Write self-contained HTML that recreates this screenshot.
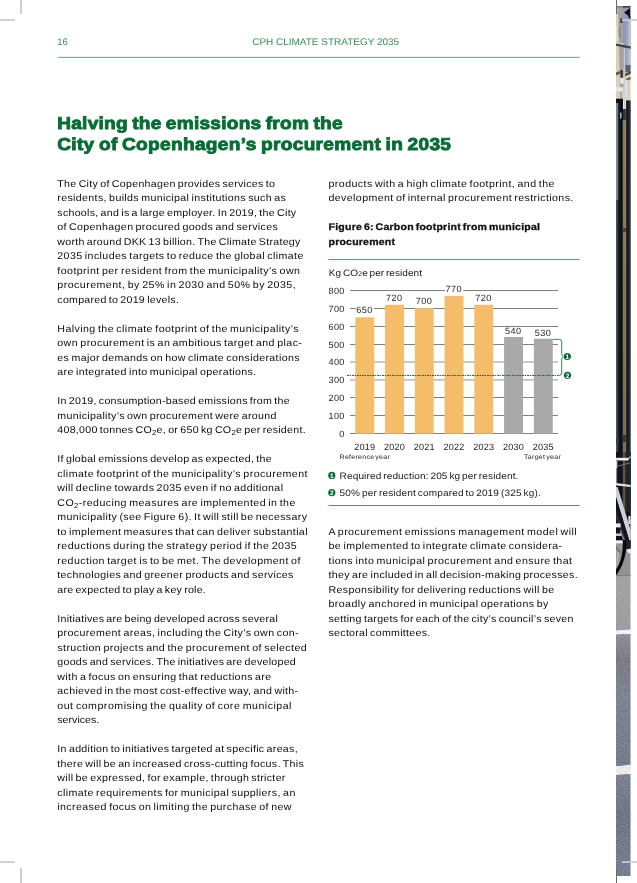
<!DOCTYPE html>
<html lang="en">
<head>
<meta charset="utf-8">
<title>CPH Climate Strategy 2035 – page 16</title>
<style>
html,body{margin:0;padding:0;background:#fff;}
body{width:637px;height:883px;position:relative;overflow:hidden;font-family:"Liberation Sans",Arial,Helvetica,sans-serif;color:#111;}
.pg{position:absolute;left:0;top:0;width:637px;height:883px;overflow:hidden;}
.pg svg{position:absolute;left:0;top:0;}
.t{position:absolute;left:0;top:0;white-space:nowrap;line-height:20px;height:20px;margin:0;padding:0;transform-origin:0 0;text-rendering:geometricPrecision;font-weight:normal;}
.hd{font-size:9.6px;color:#2f905c;}
.ti{font-size:17.2px;color:#0a6c36;font-weight:bold;word-spacing:-1.1px;-webkit-text-stroke:0.9px #0a6c36;}
.bd{font-size:9.85px;color:#0d0d0d;word-spacing:-1.0px;}
.cap{font-size:9.6px;color:#111;font-weight:bold;word-spacing:-1.2px;-webkit-text-stroke:0.3px #111;}
.sm{font-size:9.3px;color:#1a1a1a;word-spacing:-1.0px;}
.ax{font-size:9.1px;color:#262626;}
.xs{font-size:6.5px;color:#1a1a1a;word-spacing:-1.2px;}
.cn{font-size:6.4px;color:#fff;font-weight:bold;}
sub{font-size:7.2px;vertical-align:baseline;position:relative;top:1.8px;line-height:0;}
.s2{font-size:6.7px;}
</style>
</head>
<body>
<div class="pg">
<svg width="637" height="883" viewBox="0 0 637 883" xmlns="http://www.w3.org/2000/svg" aria-hidden="true">
<defs>
<linearGradient id="brn" x1="0" x2="0" y1="0" y2="1"><stop offset="0" stop-color="#8f7b59"/><stop offset="0.5" stop-color="#84714f"/><stop offset="1" stop-color="#74644a"/></linearGradient>
<linearGradient id="pv1" x1="0" x2="0" y1="0" y2="1">
<stop offset="0" stop-color="#9c9da0"/><stop offset="0.25" stop-color="#a39c9d"/><stop offset="1" stop-color="#95989f"/>
</linearGradient>
<linearGradient id="pv2" x1="0" x2="0" y1="0" y2="1">
<stop offset="0" stop-color="#858a94"/><stop offset="0.2" stop-color="#6f737c"/><stop offset="0.5" stop-color="#767c8a"/><stop offset="1" stop-color="#6c7282"/>
</linearGradient>
<linearGradient id="pv3" x1="0" x2="0" y1="0" y2="1">
<stop offset="0" stop-color="#747a8c"/><stop offset="0.4" stop-color="#666b7a"/><stop offset="1" stop-color="#6e758a"/>
</linearGradient>
<clipPath id="strip"><rect x="616" y="5.9" width="14.7" height="870"/></clipPath>
<filter id="nz" x="0" y="0" width="100%" height="100%"><feTurbulence type="fractalNoise" baseFrequency="0.9" numOctaves="2" seed="7" result="n"/><feColorMatrix in="n" type="matrix" values="0 0 0 0 0.5  0 0 0 0 0.5  0 0 0 0 0.55  1.6 0 0 0 -0.55"/></filter>
</defs>
<g clip-path="url(#strip)">
<rect x="616.00" y="6.00" width="14.70" height="94.00" fill="#dccfb8"/>
<path d="M618 6 L622.9 6 L623.8 100 L620.3 100 Z" fill="#a5a39d"/>
<path d="M616 6 L618 6 L618.3 14 L616 14 Z" fill="#b0b0b0"/>
<rect x="622.80" y="6.00" width="7.90" height="63.00" fill="#8f9bb6"/>
<rect x="628.40" y="20.00" width="2.30" height="46.00" fill="#bcc6d2"/>
<rect x="626.60" y="24.00" width="1.60" height="42.00" fill="#a3afc6"/>
<rect x="622.80" y="6.00" width="7.90" height="1.60" fill="#3a3c40"/>
<rect x="616.00" y="6.00" width="6.80" height="1.40" fill="#7a7c80"/>
<path d="M624.2 12.6 L630.2 7.8 L630.2 17.6 Z" fill="#0e0f12"/>
<path d="M628 16 L630.6 16 L630.6 19 L629 18.6 Z" fill="#23262c"/>
<rect x="620.20" y="18.40" width="2.40" height="4.60" fill="#3c4454"/>
<rect x="618.80" y="26.00" width="2.00" height="12.00" fill="#8f8f92"/>
<rect x="616.00" y="26.00" width="1.60" height="14.00" fill="#e6dccb"/>
<path d="M616 43.4 L631 46.6 L631 48.8 L616 45.8 Z" fill="#3a3f38"/>
<path d="M616 42 L624 43.6 L624 44.8 L616 43.4 Z" fill="#c9ccd0"/>
<rect x="623.60" y="48.00" width="1.60" height="62.00" fill="#c6c9ce"/>
<rect x="625.40" y="65.00" width="5.30" height="7.40" fill="#5d6270"/>
<path d="M616 72.6 L620.4 70.8 L620.4 73.6 L616 75.4 Z" fill="#5a5a48"/>
<rect x="620.60" y="70.00" width="2.20" height="7.60" fill="#2d3036"/>
<path d="M625 73.8 L631 71.2 L631 73.8 L625 76.2 Z" fill="#4c4c3c"/>
<path d="M626.4 78.8 L631 76.8 L631 79 L626.4 80.8 Z" fill="#5c5a44"/>
<rect x="620.40" y="78.00" width="3.20" height="5.60" fill="#ecedef"/>
<rect x="624.80" y="80.00" width="2.60" height="17.00" fill="#dcdfe4"/>
<rect x="616.00" y="87.20" width="7.20" height="4.20" fill="#e6e8ea"/>
<rect x="621.80" y="91.40" width="3.60" height="8.60" fill="#cfd2d6"/>
<rect x="616.00" y="98.70" width="7.00" height="421.30" fill="#0b1118"/>
<rect x="625.90" y="100.40" width="4.80" height="419.60" fill="#24262e"/>
<rect x="623.00" y="109.00" width="2.90" height="12.00" fill="#3a332c"/>
<rect x="622.70" y="120.00" width="3.20" height="400.00" fill="url(#brn)"/>
<rect x="616.00" y="103.00" width="2.40" height="97.00" fill="#7d858c"/>
<rect x="616.00" y="200.00" width="1.80" height="252.00" fill="#4a5058"/>
<rect x="618.40" y="103.00" width="1.00" height="349.00" fill="#1d252e"/>
<rect x="629.80" y="100.40" width="0.90" height="419.60" fill="#3d4049"/>
<rect x="627.40" y="100.40" width="1.00" height="419.60" fill="#15171d"/>
<path d="M620 113 Q620.8 111.6 621.5 113 L621.5 118 Q620.8 119.6 620 118 Z" fill="#a9b6cc"/>
<rect x="622.70" y="228.00" width="3.20" height="4.00" fill="#4a4030"/>
<rect x="622.70" y="435.00" width="3.20" height="7.00" fill="#3a342c"/>
<rect x="616.00" y="438.00" width="2.60" height="6.00" fill="#3a3f46"/>
<rect x="616.00" y="452.00" width="14.70" height="88.00" fill="#0f1218"/>
<rect x="622.70" y="452.00" width="2.90" height="60.00" fill="#5e4f3a"/>
<rect x="625.90" y="452.00" width="4.80" height="60.00" fill="#20232a"/>
<rect x="616.00" y="457.80" width="12.60" height="2.70" fill="#eceef0"/>
<path d="M628.6 457.8 L631 455.6 L631 457.2 L629.8 459 Z" fill="#b9bfd0"/>
<path d="M618 465.6 L629.6 462.6 L629.8 463.5 L618.2 466.5 Z" fill="#6f7690"/>
<rect x="616.00" y="461.00" width="1.40" height="7.00" fill="#cfd3d8"/>
<rect x="616.00" y="468.00" width="1.20" height="15.00" fill="#7f868e"/>
<path d="M616 483 L631 485 L631 487 L616 485.4 Z" fill="#dfe3e8"/>
<path d="M616 487 L617.6 487 L631 531 L631 541 L629.4 541 L616 497 Z" fill="#ccd1d9"/>
<path d="M616 497 L629.4 541 L631 541 L631 548 L627.8 546 L616 510 Z" fill="#12151b"/>
<path d="M616 510 L627.8 546 L627 548 L616 519 Z" fill="#2b303b"/>
<path d="M620.6 530 L626.8 545 L625.6 545.6 L619.6 531 Z" fill="#8a92ac"/>
<rect x="628.40" y="516.00" width="2.30" height="8.00" fill="#dfe2e6"/>
<rect x="616.00" y="523.40" width="4.60" height="4.00" fill="#e8eaed"/>
<rect x="616.00" y="533.40" width="5.40" height="2.60" fill="#c4c8cf"/>
<rect x="616.00" y="540.00" width="14.70" height="36.00" fill="#8f9496"/>
<path d="M616 543.4 L623.4 543.4 L622.6 556 L619 567 L616 571 Z" fill="#949b98"/>
<path d="M616 546 L621 552 L620.4 553.4 L616 548.4 Z" fill="#6f746c"/>
<path d="M617.6 552 L618.8 552 L617.4 566 L616.4 566 Z" fill="#b9c0c4"/>
<rect x="616.00" y="540.80" width="7.20" height="2.60" fill="#eef0f2"/>
<path d="M623 540 L631 540 L631 549 L626.4 549.6 L625 545 Z" fill="#1d222b"/>
<path d="M626.6 549.4 L631 548.6 L631 553.4 L628 553 Z" fill="#eceef1"/>
<path d="M622.8 540 L626.4 540 C627 553 623.4 566 616 575.6 L616 569.4 C620.6 563.4 623.2 553 622.8 540 Z" fill="#07080b"/>
<rect x="616.00" y="575.00" width="14.70" height="1.60" fill="#7c8084"/>
<rect x="616" y="576" width="14.7" height="55" fill="url(#pv1)"/>
<rect x="616" y="634" width="14.7" height="132" fill="url(#pv2)"/>
<rect x="616" y="774" width="14.7" height="102" fill="url(#pv3)"/>
<path d="M616 630.6 L631 629.6 L631 633.2 L616 634.6 Z" fill="#fbfbfb"/>
<path d="M616 766.6 L631 764.4 L631 773.4 L616 775 Z" fill="#f4f4f6"/>
<rect x="616" y="576" width="14.7" height="300" fill="#777" filter="url(#nz)" opacity="0.55"/>
</g>
<rect x="0" y="19.2" width="15" height="1.7" fill="#cbcbcb"/>
<rect x="20.1" y="0" width="1.9" height="14" fill="#cbcbcb"/>
<rect x="0" y="861.2" width="15" height="1.7" fill="#cbcbcb"/>
<rect x="20.1" y="868" width="1.9" height="15" fill="#cbcbcb"/>
<rect x="622" y="19.2" width="15" height="1.7" fill="#cbcbcb"/>
<rect x="622" y="861.2" width="15" height="1.7" fill="#cbcbcb"/>
<rect x="616" y="0" width="1" height="14" fill="#6a6a6a"/>
<rect x="616" y="868" width="1" height="15" fill="#6a6a6a"/>
<rect x="58.1" y="56.85" width="521.5" height="0.9" fill="#4fa077"/>
<rect x="328.5" y="259.05" width="251" height="0.8" fill="#1f8a52"/>
<rect x="328.5" y="505.1" width="251" height="0.85" fill="#1f8a52"/>
<rect x="350" y="290.25" width="208" height="0.5" fill="#000"/>
<rect x="350" y="308.25" width="208" height="0.5" fill="#000"/>
<rect x="350" y="326.25" width="208" height="0.5" fill="#000"/>
<rect x="350" y="344.20" width="208" height="0.5" fill="#000"/>
<rect x="350" y="361.79" width="208" height="0.42" fill="#000"/>
<rect x="350" y="379.74" width="208" height="0.42" fill="#000"/>
<rect x="350" y="397.30" width="208" height="0.5" fill="#000"/>
<rect x="350" y="415.25" width="208" height="0.5" fill="#000"/>
<rect x="350" y="433.20" width="208" height="0.5" fill="#000"/>
<rect x="355.90" y="307.71" width="18.00" height="9.6" fill="#fff"/>
<rect x="355.30" y="317.31" width="18.90" height="116.39" fill="#f5bd69"/>
<rect x="385.66" y="295.21" width="18.00" height="9.6" fill="#fff"/>
<rect x="385.06" y="304.81" width="18.90" height="128.89" fill="#f5bd69"/>
<rect x="415.42" y="298.78" width="18.00" height="9.6" fill="#fff"/>
<rect x="414.82" y="308.38" width="18.90" height="125.32" fill="#f5bd69"/>
<rect x="445.18" y="286.28" width="18.00" height="9.6" fill="#fff"/>
<rect x="444.58" y="295.88" width="18.90" height="137.82" fill="#f5bd69"/>
<rect x="474.94" y="295.21" width="18.00" height="9.6" fill="#fff"/>
<rect x="474.34" y="304.81" width="18.90" height="128.89" fill="#f5bd69"/>
<rect x="504.70" y="327.36" width="18.00" height="9.6" fill="#fff"/>
<rect x="504.10" y="336.96" width="18.90" height="96.74" fill="#a9a9a9"/>
<rect x="534.46" y="329.14" width="18.00" height="9.6" fill="#fff"/>
<rect x="533.86" y="338.74" width="18.90" height="94.96" fill="#a9a9a9"/>
<line x1="346.9" y1="375.45" x2="559.6" y2="375.45" stroke="#0c7a3e" stroke-width="1" stroke-dasharray="2.4 0.6 1.1 0.9"/>
<path d="M553 339.4 L559.4 339.4 Q561.7 339.4 561.7 341.8 L561.7 353.6 Q561.7 355.6 563.4 356.6 Q561.7 357.6 561.7 359.6 L561.7 372.9 Q561.7 375.3 559.4 375.3" fill="none" stroke="#1a7a45" stroke-width="0.9"/>
<circle cx="567.3" cy="356.5" r="3.6" fill="#0a6c36"/>
<circle cx="567.5" cy="375.3" r="3.6" fill="#0a6c36"/>
<circle cx="331.8" cy="475.4" r="3.6" fill="#0a6c36"/>
<circle cx="331.8" cy="492.7" r="3.6" fill="#0a6c36"/>
</svg>
<div class="t hd" style="transform:translate(57.20px,33px) scaleX(0.98);">16</div>
<div class="t hd" style="transform:translate(252.20px,33px) scaleX(1.04);letter-spacing:-0.002px;">CPH CLIMATE STRATEGY 2035</div>
<h1 class="t ti" style="transform:translate(57.20px,113px) scaleX(1.11);letter-spacing:0.224px;">Halving the emissions from the</h1>
<h1 class="t ti" style="transform:translate(57.20px,134px) scaleX(1.11);letter-spacing:0.291px;">City of Copenhagen’s procurement in 2035</h1>
<p class="t bd" style="transform:translate(57.30px,175px) scaleX(1.08);letter-spacing:0.265px;">The City of Copenhagen provides services to</p>
<p class="t bd" style="transform:translate(57.30px,189px) scaleX(1.08);letter-spacing:0.324px;">residents, builds municipal institutions such as</p>
<p class="t bd" style="transform:translate(57.30px,204px) scaleX(1.08);letter-spacing:0.248px;">schools, and is a large employer. In 2019, the City</p>
<p class="t bd" style="transform:translate(57.30px,218px) scaleX(1.08);letter-spacing:0.317px;">of Copenhagen procured goods and services</p>
<p class="t bd" style="transform:translate(57.30px,233px) scaleX(1.08);letter-spacing:0.256px;">worth around DKK 13 billion. The Climate Strategy</p>
<p class="t bd" style="transform:translate(57.30px,247px) scaleX(1.08);letter-spacing:0.369px;">2035 includes targets to reduce the global climate</p>
<p class="t bd" style="transform:translate(57.30px,262px) scaleX(1.08);letter-spacing:0.402px;">footprint per resident from the municipality’s own</p>
<p class="t bd" style="transform:translate(57.30px,276px) scaleX(1.08);letter-spacing:0.419px;">procurement, by 25% in 2030 and 50% by 2035,</p>
<p class="t bd" style="transform:translate(57.30px,291px) scaleX(1.08);letter-spacing:0.243px;">compared to 2019 levels.</p>
<p class="t bd" style="transform:translate(57.30px,320px) scaleX(1.08);letter-spacing:0.390px;">Halving the climate footprint of the municipality’s</p>
<p class="t bd" style="transform:translate(57.30px,334px) scaleX(1.08);letter-spacing:0.381px;">own procurement is an ambitious target and plac-</p>
<p class="t bd" style="transform:translate(57.30px,349px) scaleX(1.08);letter-spacing:0.326px;">es major demands on how climate considerations</p>
<p class="t bd" style="transform:translate(57.30px,363px) scaleX(1.08);letter-spacing:0.326px;">are integrated into municipal operations.</p>
<p class="t bd" style="transform:translate(57.30px,392px) scaleX(1.08);letter-spacing:0.239px;">In 2019, consumption-based emissions from the</p>
<p class="t bd" style="transform:translate(57.30px,407px) scaleX(1.08);letter-spacing:0.299px;">municipality’s own procurement were around</p>
<p class="t bd" style="transform:translate(57.30px,421px) scaleX(1.08);letter-spacing:0.252px;">408,000 tonnes CO<sub>2</sub>e, or 650 kg CO<sub>2</sub>e per resident.</p>
<p class="t bd" style="transform:translate(57.30px,450px) scaleX(1.08);letter-spacing:0.264px;">If global emissions develop as expected, the</p>
<p class="t bd" style="transform:translate(57.30px,465px) scaleX(1.08);letter-spacing:0.415px;">climate footprint of the municipality’s procurement</p>
<p class="t bd" style="transform:translate(57.30px,479px) scaleX(1.08);letter-spacing:0.353px;">will decline towards 2035 even if no additional</p>
<p class="t bd" style="transform:translate(57.30px,494px) scaleX(1.08);letter-spacing:0.389px;">CO<sub>2</sub>-reducing measures are implemented in the</p>
<p class="t bd" style="transform:translate(57.30px,508px) scaleX(1.08);letter-spacing:0.337px;">municipality (see Figure 6). It will still be necessary</p>
<p class="t bd" style="transform:translate(57.30px,523px) scaleX(1.08);letter-spacing:0.328px;">to implement measures that can deliver substantial</p>
<p class="t bd" style="transform:translate(57.30px,537px) scaleX(1.08);letter-spacing:0.420px;">reductions during the strategy period if the 2035</p>
<p class="t bd" style="transform:translate(57.30px,552px) scaleX(1.08);letter-spacing:0.391px;">reduction target is to be met. The development of</p>
<p class="t bd" style="transform:translate(57.30px,566px) scaleX(1.08);letter-spacing:0.311px;">technologies and greener products and services</p>
<p class="t bd" style="transform:translate(57.30px,581px) scaleX(1.08);letter-spacing:0.216px;">are expected to play a key role.</p>
<p class="t bd" style="transform:translate(57.30px,610px) scaleX(1.08);letter-spacing:0.222px;">Initiatives are being developed across several</p>
<p class="t bd" style="transform:translate(57.30px,624px) scaleX(1.08);letter-spacing:0.356px;">procurement areas, including the City’s own con-</p>
<p class="t bd" style="transform:translate(57.30px,639px) scaleX(1.08);letter-spacing:0.378px;">struction projects and the procurement of selected</p>
<p class="t bd" style="transform:translate(57.30px,653px) scaleX(1.08);letter-spacing:0.236px;">goods and services. The initiatives are developed</p>
<p class="t bd" style="transform:translate(57.30px,668px) scaleX(1.08);letter-spacing:0.340px;">with a focus on ensuring that reductions are</p>
<p class="t bd" style="transform:translate(57.30px,682px) scaleX(1.08);letter-spacing:0.290px;">achieved in the most cost-effective way, and with-</p>
<p class="t bd" style="transform:translate(57.30px,697px) scaleX(1.08);letter-spacing:0.453px;">out compromising the quality of core municipal</p>
<p class="t bd" style="transform:translate(57.30px,711px) scaleX(1.08);letter-spacing:0.006px;">services.</p>
<p class="t bd" style="transform:translate(57.30px,740px) scaleX(1.08);letter-spacing:0.273px;">In addition to initiatives targeted at specific areas,</p>
<p class="t bd" style="transform:translate(57.30px,755px) scaleX(1.08);letter-spacing:0.291px;">there will be an increased cross-cutting focus. This</p>
<p class="t bd" style="transform:translate(57.30px,769px) scaleX(1.08);letter-spacing:0.291px;">will be expressed, for example, through stricter</p>
<p class="t bd" style="transform:translate(57.30px,784px) scaleX(1.08);letter-spacing:0.360px;">climate requirements for municipal suppliers, an</p>
<p class="t bd" style="transform:translate(57.30px,798px) scaleX(1.08);letter-spacing:0.358px;">increased focus on limiting the purchase of new</p>
<p class="t bd" style="transform:translate(328.50px,175px) scaleX(1.08);letter-spacing:0.393px;">products with a high climate footprint, and the</p>
<p class="t bd" style="transform:translate(328.50px,189px) scaleX(1.08);letter-spacing:0.360px;">development of internal procurement restrictions.</p>
<p class="t bd" style="transform:translate(328.50px,523px) scaleX(1.08);letter-spacing:0.412px;">A procurement emissions management model will</p>
<p class="t bd" style="transform:translate(328.50px,537px) scaleX(1.08);letter-spacing:0.370px;">be implemented to integrate climate considera-</p>
<p class="t bd" style="transform:translate(328.50px,552px) scaleX(1.08);letter-spacing:0.396px;">tions into municipal procurement and ensure that</p>
<p class="t bd" style="transform:translate(328.50px,566px) scaleX(1.08);letter-spacing:0.290px;">they are included in all decision-making processes.</p>
<p class="t bd" style="transform:translate(328.50px,581px) scaleX(1.08);letter-spacing:0.337px;">Responsibility for delivering reductions will be</p>
<p class="t bd" style="transform:translate(328.50px,595px) scaleX(1.08);letter-spacing:0.381px;">broadly anchored in municipal operations by</p>
<p class="t bd" style="transform:translate(328.50px,610px) scaleX(1.08);letter-spacing:0.255px;">setting targets for each of the city’s council’s seven</p>
<p class="t bd" style="transform:translate(328.50px,624px) scaleX(1.08);letter-spacing:0.258px;">sectoral committees.</p>
<h2 class="t cap" style="transform:translate(328.50px,218px) scaleX(1.1);letter-spacing:0.200px;">Figure 6: Carbon footprint from municipal</h2>
<h2 class="t cap" style="transform:translate(328.50px,233px) scaleX(1.1);letter-spacing:0.181px;">procurement</h2>
<div class="t sm" style="transform:translate(328.80px,263px) scaleX(1.08);letter-spacing:0.042px;">Kg CO<span class='s2'>2</span>e per resident</div>
<div class="t ax" style="transform:translate(339.34px,424px);letter-spacing:0.300px;">0</div>
<div class="t ax" style="transform:translate(328.61px,406px);letter-spacing:0.300px;">100</div>
<div class="t ax" style="transform:translate(328.61px,388px);letter-spacing:0.300px;">200</div>
<div class="t ax" style="transform:translate(328.61px,370px);letter-spacing:0.300px;">300</div>
<div class="t ax" style="transform:translate(328.61px,352px);letter-spacing:0.300px;">400</div>
<div class="t ax" style="transform:translate(328.61px,335px);letter-spacing:0.300px;">500</div>
<div class="t ax" style="transform:translate(328.61px,317px);letter-spacing:0.300px;">600</div>
<div class="t ax" style="transform:translate(328.61px,299px);letter-spacing:0.300px;">700</div>
<div class="t ax" style="transform:translate(328.61px,281px);letter-spacing:0.300px;">800</div>
<div class="t ax" style="transform:translate(354.13px,437px);letter-spacing:0.200px;">2019</div>
<div class="t ax" style="transform:translate(356.26px,300px);letter-spacing:0.400px;">650</div>
<div class="t ax" style="transform:translate(383.89px,437px);letter-spacing:0.200px;">2020</div>
<div class="t ax" style="transform:translate(386.02px,288px);letter-spacing:0.400px;">720</div>
<div class="t ax" style="transform:translate(413.65px,437px);letter-spacing:0.200px;">2021</div>
<div class="t ax" style="transform:translate(415.78px,291px);letter-spacing:0.400px;">700</div>
<div class="t ax" style="transform:translate(443.41px,437px);letter-spacing:0.200px;">2022</div>
<div class="t ax" style="transform:translate(445.54px,279px);letter-spacing:0.400px;">770</div>
<div class="t ax" style="transform:translate(473.17px,437px);letter-spacing:0.200px;">2023</div>
<div class="t ax" style="transform:translate(475.30px,288px);letter-spacing:0.400px;">720</div>
<div class="t ax" style="transform:translate(502.93px,437px);letter-spacing:0.200px;">2030</div>
<div class="t ax" style="transform:translate(505.06px,321px);letter-spacing:0.400px;">540</div>
<div class="t ax" style="transform:translate(532.69px,437px);letter-spacing:0.200px;">2035</div>
<div class="t ax" style="transform:translate(534.82px,323px);letter-spacing:0.400px;">530</div>
<div class="t xs" style="transform:translate(339.60px,448px) scaleX(1.08);letter-spacing:0.249px;">Reference year</div>
<div class="t xs" style="transform:translate(524.00px,448px) scaleX(1.08);letter-spacing:0.275px;">Target year</div>
<div class="t sm" style="transform:translate(339.60px,466px) scaleX(1.08);letter-spacing:0.119px;">Required reduction: 205 kg per resident.</div>
<div class="t sm" style="transform:translate(339.60px,483px) scaleX(1.08);letter-spacing:0.148px;">50% per resident compared to 2019 (325 kg).</div>
<div class="t cn" style="transform:translate(565.52px,348px);">1</div>
<div class="t cn" style="transform:translate(565.72px,367px);">2</div>
<div class="t cn" style="transform:translate(330.02px,467px);">1</div>
<div class="t cn" style="transform:translate(330.02px,484px);">2</div>
</div>
</body>
</html>
